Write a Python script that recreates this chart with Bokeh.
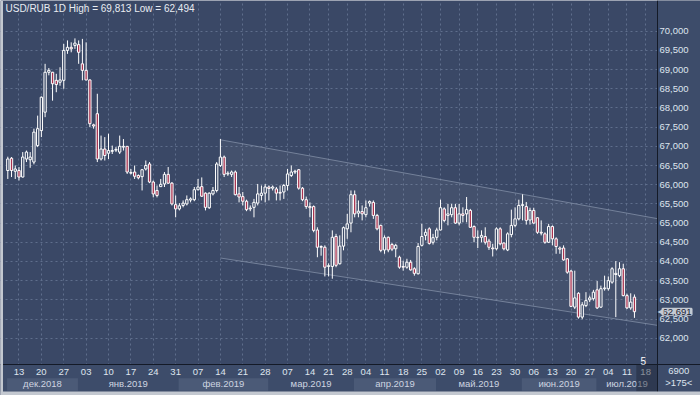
from bokeh.plotting import figure
from bokeh.models import (Range1d, FixedTicker, LinearAxis, CustomJSTickFormatter,
                          BoxAnnotation, Label, ColumnDataSource)
from bokeh.embed import file_html
from bokeh.resources import INLINE

# ---------------- data ----------------
opens = [66.37, 66.69, 66.35, 66.37, 66.20, 66.67, 66.65, 66.59, 67.02, 67.41,
         67.89, 68.93, 68.93, 68.72, 68.67, 68.72, 69.50, 69.58, 69.63, 69.65,
         69.15, 68.98, 68.73, 67.56, 67.85, 66.67, 66.93, 66.82, 66.87, 66.90,
         66.85, 66.98, 67.00, 66.30, 66.33, 66.24, 66.21, 66.41, 66.54, 66.07,
         65.85, 65.95, 66.02, 66.27, 66.04, 65.48, 65.37, 65.46, 65.50, 65.60,
         65.61, 65.87, 65.95, 65.78, 65.40, 65.76, 65.85, 66.50, 66.72, 66.28,
         66.27, 66.33, 65.76, 65.69, 65.57, 65.37, 65.41, 65.52, 65.72, 65.78,
         65.94, 65.91, 65.89, 65.80, 65.81, 65.98, 66.24, 66.33, 66.39, 65.91,
         65.61, 65.43, 65.43, 64.82, 64.39, 64.37, 63.87, 63.87, 64.65, 63.94,
         64.40, 64.85, 65.00, 65.74, 65.26, 65.30, 65.22, 65.52, 65.54, 65.20,
         64.94, 64.30, 64.63, 64.44, 64.33, 64.11, 63.87, 63.85, 63.98, 63.81,
         63.68, 64.42, 64.68, 64.85, 64.50, 64.63, 64.82, 65.37, 65.20, 65.22,
         65.40, 65.00, 65.24, 65.24, 65.33, 64.91, 64.63, 64.63, 64.65, 64.53,
         64.35, 64.33, 64.85, 64.48, 64.30, 64.70, 64.94, 65.11, 65.46, 65.43,
         65.08, 65.33, 65.14, 64.76, 64.72, 64.50, 64.91, 64.59, 64.35, 64.35,
         64.07, 63.75, 62.81, 63.17, 62.55, 62.85, 63.00, 63.03, 63.26, 62.81,
         63.29, 63.29, 63.46, 63.66, 63.63, 63.81, 63.11, 62.79, 63.07]
highs = [66.73, 66.72, 66.50, 66.46, 66.85, 66.89, 66.85, 67.46, 67.80, 68.30,
         69.15, 69.04, 68.94, 68.89, 69.06, 69.67, 69.76, 69.71, 69.813, 69.76,
         69.80, 69.71, 68.74, 67.59, 68.37, 67.28, 67.24, 67.33, 67.02, 66.98,
         67.28, 67.19, 67.00, 66.41, 66.50, 66.27, 66.41, 66.63, 66.59, 66.11,
         65.98, 66.15, 66.33, 66.46, 66.07, 65.72, 65.52, 65.59, 65.72, 65.67,
         65.94, 66.15, 66.19, 65.80, 65.80, 65.94, 66.59, 67.19, 66.76, 66.35,
         66.37, 66.37, 65.94, 65.81, 65.61, 65.46, 65.63, 66.02, 65.98, 66.02,
         65.98, 65.98, 65.94, 65.98, 66.02, 66.41, 66.50, 66.39, 66.41, 65.94,
         65.69, 65.54, 65.46, 64.89, 64.42, 64.42, 63.95, 64.81, 64.72, 64.68,
         64.91, 65.24, 65.85, 65.85, 65.59, 65.46, 65.59, 65.59, 65.59, 65.24,
         64.96, 64.68, 64.65, 64.48, 64.46, 64.15, 64.02, 64.07, 64.04, 63.85,
         64.48, 64.98, 64.85, 64.89, 64.72, 64.88, 65.61, 65.41, 65.50, 65.50,
         65.50, 65.50, 65.41, 65.68, 65.37, 64.94, 64.81, 64.81, 64.89, 64.59,
         64.46, 64.89, 64.89, 64.50, 64.76, 65.35, 65.41, 65.61, 65.75, 65.55,
         65.40, 65.40, 65.15, 65.07, 64.76, 64.98, 64.94, 64.63, 64.39, 64.42,
         64.09, 63.78, 63.76, 63.20, 62.94, 63.20, 63.11, 63.26, 63.49, 63.37,
         63.63, 63.61, 63.85, 64.01, 63.98, 63.94, 63.16, 63.17, 63.14]
lows = [66.15, 66.20, 66.15, 66.11, 66.19, 66.59, 66.44, 66.53, 66.98, 67.24,
        67.76, 68.85, 68.19, 68.41, 68.58, 68.50, 69.41, 69.45, 69.54, 69.15,
        68.72, 68.72, 67.50, 67.46, 66.59, 66.63, 66.63, 66.67, 66.80, 66.85,
        66.80, 66.89, 66.28, 66.27, 66.15, 66.14, 65.85, 66.37, 66.04, 65.67,
        65.67, 65.94, 65.94, 66.02, 65.46, 65.15, 65.33, 65.41, 65.46, 65.54,
        65.57, 65.85, 65.68, 65.33, 65.37, 65.72, 65.80, 66.46, 66.20, 66.23,
        66.20, 65.72, 65.54, 65.46, 65.31, 65.31, 65.15, 65.46, 65.59, 65.54,
        65.59, 65.85, 65.59, 65.59, 65.63, 65.85, 66.20, 66.28, 65.87, 65.57,
        65.37, 65.15, 64.76, 64.11, 64.15, 63.61, 63.61, 63.55, 63.85, 63.92,
        64.29, 64.59, 64.76, 65.15, 65.15, 65.07, 65.15, 65.43, 65.11, 64.81,
        64.24, 64.20, 64.24, 64.27, 64.11, 63.81, 63.76, 63.81, 63.76, 63.63,
        63.66, 64.39, 64.55, 64.44, 64.44, 64.55, 64.81, 65.02, 64.94, 65.15,
        64.98, 64.94, 65.02, 65.02, 64.88, 64.50, 64.35, 64.50, 64.44, 64.30,
        64.13, 64.29, 64.42, 64.29, 64.27, 64.63, 64.89, 65.07, 65.07, 64.96,
        64.96, 64.98, 64.72, 64.68, 64.46, 64.48, 64.42, 64.20, 64.20, 64.02,
        63.68, 62.81, 62.76, 62.51, 62.494, 62.81, 62.94, 62.98, 62.76, 62.79,
        63.24, 63.24, 63.42, 62.55, 63.59, 63.09, 62.76, 62.74, 62.53]
closes = [66.67, 66.37, 66.41, 66.20, 66.72, 66.85, 66.72, 67.37, 67.46, 68.28,
          68.93, 68.98, 68.63, 68.61, 68.73, 69.50, 69.58, 69.54, 69.69, 69.45,
          68.98, 68.73, 67.59, 67.53, 66.67, 66.93, 66.76, 66.89, 66.89, 66.92,
          67.00, 67.00, 66.33, 66.32, 66.22, 66.18, 66.39, 66.50, 66.07, 65.76,
          65.72, 66.01, 66.27, 66.04, 65.50, 65.37, 65.45, 65.52, 65.61, 65.63,
          65.87, 65.94, 65.70, 65.41, 65.78, 65.85, 66.54, 66.72, 66.27, 66.30,
          66.33, 65.74, 65.68, 65.57, 65.35, 65.39, 65.54, 65.76, 65.78, 65.94,
          65.90, 65.94, 65.78, 65.78, 65.98, 66.28, 66.33, 66.35, 65.91, 65.61,
          65.43, 65.40, 64.81, 64.37, 64.37, 63.85, 63.89, 64.63, 63.90, 64.40,
          64.88, 64.98, 65.74, 65.24, 65.31, 65.24, 65.40, 65.56, 65.20, 64.85,
          64.29, 64.62, 64.30, 64.32, 64.42, 63.85, 63.85, 63.98, 63.78, 63.69,
          64.39, 64.65, 64.76, 64.47, 64.62, 64.82, 65.40, 65.07, 65.24, 65.40,
          65.00, 65.24, 65.20, 65.35, 64.89, 64.63, 64.62, 64.68, 64.50, 64.37,
          64.33, 64.85, 64.46, 64.33, 64.72, 64.94, 65.11, 65.46, 65.48, 65.07,
          65.33, 65.00, 64.76, 64.74, 64.50, 64.91, 64.59, 64.39, 64.32, 64.04,
          63.72, 62.83, 63.05, 62.55, 62.87, 62.98, 63.05, 63.20, 62.79, 63.29,
          63.31, 63.50, 63.81, 63.69, 63.81, 63.11, 62.79, 62.94, 62.691]

week_idx = [3, 9, 15, 21, 27, 33, 39, 45, 51, 57, 63, 69, 75, 81, 86, 91,
            96, 101, 106, 111, 116, 121, 126, 131, 136, 141, 146, 151, 156,
            161, 166, 171]
week_days = ["13", "20", "27", "03", "10", "17", "24", "31", "07", "14", "21",
             "28", "07", "14", "21", "28", "04", "11", "18", "25", "02", "09",
             "16", "23", "30", "06", "13", "20", "27", "04", "11", "18"]
month_names = ["дек.2018", "янв.2019", "фев.2019", "мар.2019", "апр.2019",
               "май.2019", "июн.2019", "июл.2019"]
month_first_idx = [0, 19, 46, 70, 93, 115, 138, 158]
y_ticks = [62.0, 62.5, 63.0, 63.5, 64.0, 64.5, 65.0, 65.5, 66.0, 66.5,
           67.0, 67.5, 68.0, 68.5, 69.0, 69.5, 70.0]
channel_idx = [57, 174.5]
channel_upper = [67.17, 65.11]
channel_lower = [64.09, 62.33]
last_price = 62.691
title_text = "USD/RUB 1D High = 69,813 Low = 62,494"
corner_top = "6900"
corner_bottom = ">175<"
bars_back = "5"

# ---------------- style / layout ----------------
BG = "#3a4866"
PANEL = "#3d4c6a"
BOX = "#4b5a77"
RED = "#a8324f"
GRID = "#5f6e8c"
DARK = "#141a27"
EDGE = "#c3c8d0"
TXT = "#dfe5ee"
FONT = "Liberation Sans"
FS = "9.5px"

W, H = 700, 395
CL, CR, CT, CB = 3, 657, 0, 364        # chart area in canvas px
XC0, XC1 = -1.153, 174.18              # visible bar index range of the chart area
YC0, YC1 = 61.315, 70.80               # visible price range of the chart area
ppx = (CR - CL) / (XC1 - XC0)
ppy = (CB - CT) / (YC1 - YC0)


def px(v):
    return XC0 + (v - CL) / ppx


def py(v):
    return YC1 - (v - CT) / ppy


XF0, XF1 = px(0), px(W)
YF0, YF1 = py(H), py(0)

p = figure(width=W, height=H, x_range=Range1d(XF0, XF1), y_range=Range1d(YF0, YF1),
           output_backend="svg", toolbar_location=None, y_axis_location="right",
           min_border_left=0, min_border_right=0, min_border_top=0,
           min_border_bottom=0, background_fill_color=BG,
           border_fill_color=PANEL, outline_line_color=None)

# grid
p.xgrid.ticker = FixedTicker(ticks=week_idx)
p.ygrid.ticker = FixedTicker(ticks=y_ticks)
for g in (p.xgrid, p.ygrid):
    g.grid_line_color = GRID
    g.grid_line_dash = "2 3"
    g.grid_line_width = 1

# channel
p.patch(channel_idx + channel_idx[::-1], channel_upper + channel_lower[::-1],
        fill_color="white", fill_alpha=0.05, line_color=None)
p.line(channel_idx, channel_upper, line_color="#8a97ae", line_alpha=0.7, line_width=1)
p.line(channel_idx, channel_lower, line_color="#8a97ae", line_alpha=0.7, line_width=1)

# candles
n = len(closes)
src = ColumnDataSource(dict(
    x=list(range(n)), o=opens, h=highs, l=lows, c=closes,
    top=[max(a, b) for a, b in zip(opens, closes)],
    bot=[min(a, b) for a, b in zip(opens, closes)],
    fill=[BG if c >= o else RED for o, c in zip(opens, closes)],
))
p.segment(x0="x", y0="l", x1="x", y1="h", source=src, line_color="white", line_width=1)
p.vbar(x="x", width=0.62, top="top", bottom="bot", fill_color="fill",
       line_color="white", line_width=1, source=src)

# axis panels backgrounds (above grid/glyphs, below axes)
p.add_layout(BoxAnnotation(left=XC1, right=XF1, bottom=YF0, top=YF1,
                           fill_color=PANEL, fill_alpha=1, line_color=None,
                           level="glyph"))
p.add_layout(BoxAnnotation(left=XF0, right=XF1, bottom=YF0, top=YC0,
                           fill_color=PANEL, fill_alpha=1, line_color=None,
                           level="glyph"))
edges = [i - 0.2 for i in month_first_idx] + [XC1]
for k in range(0, len(month_names), 2):
    p.add_layout(BoxAnnotation(left=edges[k], right=edges[k + 1],
                               top=py(377.7), bottom=py(390.3),
                               fill_color=BOX, fill_alpha=1, line_color=None,
                               level="glyph"))

# right price axis (drawn at the chart edge)
ya = p.yaxis[0]
ya.fixed_location = XC1
ya.ticker = FixedTicker(ticks=y_ticks)
ya.formatter = CustomJSTickFormatter(code="return tick.toFixed(3).replace('.', ',');")
ya.major_tick_line_color = None
ya.minor_tick_line_color = None
ya.major_tick_out = 0
ya.minor_tick_out = 0
ya.axis_line_color = DARK
ya.major_label_standoff = 2
ya.major_label_text_font = FONT
ya.major_label_text_font_size = FS
ya.major_label_text_color = TXT

# day axis
xa = p.xaxis[0]
xa.fixed_location = YC0
xa.ticker = FixedTicker(ticks=week_idx)
xa.major_label_overrides = {t: d for t, d in zip(week_idx, week_days)}
xa.major_tick_line_color = None
xa.minor_tick_line_color = None
xa.major_tick_out = 0
xa.minor_tick_out = 0
xa.axis_line_color = DARK
xa.major_label_standoff = 4
xa.major_label_text_font = FONT
xa.major_label_text_font_size = FS
xa.major_label_text_color = TXT

# month axis
centers = [round((edges[k] + edges[k + 1]) / 2, 2) for k in range(len(month_names))]
ma = LinearAxis(ticker=FixedTicker(ticks=centers), fixed_location=py(377.5),
                major_label_overrides={c: m for c, m in zip(centers, month_names)},
                axis_line_color=None, major_tick_line_color=None,
                minor_tick_line_color=None, major_tick_out=0, minor_tick_out=0,
                major_label_standoff=0,
                major_label_text_font=FONT, major_label_text_font_size=FS,
                major_label_text_color="#cdd4e0")
p.add_layout(ma, "below")

# future zone on the time axis
p.add_layout(BoxAnnotation(left=n - 0.5, right=XC1, top=YC0, bottom=py(391),
                           fill_color="#1c2434", fill_alpha=0.45, line_color=None,
                           level="overlay"))

# window frame strips
p.add_layout(BoxAnnotation(left=XF0, right=XF1, top=py(391), bottom=YF0,
                           fill_color=EDGE, fill_alpha=1, line_color=None,
                           level="overlay"))
p.add_layout(BoxAnnotation(left=XF0, right=px(2.5), top=YF1, bottom=YF0,
                           fill_color=EDGE, fill_alpha=1, line_color=None,
                           level="overlay"))

# title
p.add_layout(Label(x=XC0, y=YC1, x_offset=2, y_offset=-2, text=title_text,
                   text_baseline="top", text_font=FONT, text_font_size="10px",
                   text_color="#e8ecf2"))

# bars-back marker
p.add_layout(Label(x=px(642.7), y=py(360), text=bars_back, text_align="center",
                   text_baseline="middle", text_font=FONT, text_font_size="10px",
                   text_color="white"))

# price tag on the price axis
p.add_layout(Label(x=XC1, y=last_price, x_offset=5,
                   text=f"{last_price:.3f}".replace(".", ","), text_baseline="middle",
                   text_align="left", text_font=FONT, text_font_size=FS,
                   text_color="#1b2233", background_fill_color="#c4cad3",
                   border_line_color="#c4cad3", border_line_width=2,
                   level="overlay"))
p.add_layout(Label(x=XC1, y=last_price, x_offset=0, text="◀",
                   text_baseline="middle", text_align="left", text_font="DejaVu Sans",
                   text_font_size="8px", text_color="#c4cad3", level="overlay"))

# corner texts
p.add_layout(Label(x=px(678.3), y=py(370.7), text=corner_top, text_align="center",
                   text_baseline="middle", text_font=FONT, text_font_size=FS,
                   text_color=TXT, level="overlay"))
p.add_layout(Label(x=px(678.3), y=py(382.3), text=corner_bottom, text_align="center",
                   text_baseline="middle", text_font=FONT, text_font_size=FS,
                   text_color=TXT, level="overlay"))

with open("out.html", "w", encoding="utf-8") as f:
    f.write(file_html(p, INLINE, title="USD/RUB"))
